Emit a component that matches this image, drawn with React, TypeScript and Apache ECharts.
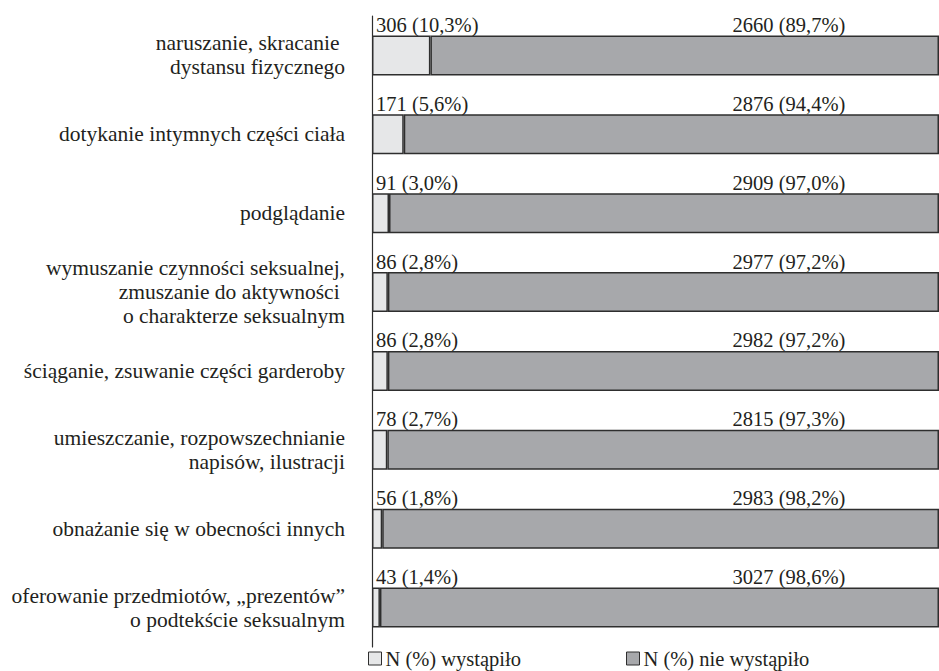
import React, { useEffect, useRef } from "react";
import * as echarts from "echarts";

const categories = [
  "naruszanie, skracanie \ndystansu fizycznego",
  "dotykanie intymnych części ciała",
  "podglądanie",
  "wymuszanie czynności seksualnej,\nzmuszanie do aktywności \no charakterze seksualnym",
  "ściąganie, zsuwanie części garderoby",
  "umieszczanie, rozpowszechnianie\nnapisów, ilustracji",
  "obnażanie się w obecności innych",
  "oferowanie przedmiotów, „prezentów”\no podtekście seksualnym",
];
const occurredN = [306, 171, 91, 86, 86, 78, 56, 43];
const occurredPct = [10.3, 5.6, 3.0, 2.8, 2.8, 2.7, 1.8, 1.4];
const notOccurredN = [2660, 2876, 2909, 2977, 2982, 2815, 2983, 3027];
const notOccurredPct = [89.7, 94.4, 97.0, 97.2, 97.2, 97.3, 98.2, 98.6];
const fullBar = [100, 100, 100, 100, 100, 100, 100, 100];

const seriesNames = ["N (%) wystąpiło", "N (%) nie wystąpiło"];

const fmt = (n: number, p: number) => `${n} (${p.toFixed(1).replace(".", ",")}%)`;

const FONT = "Liberation Serif";
const TXT = "#231f20";
const BORDER = "#2e2e2e";

export default function App() {
  const ref = useRef<HTMLDivElement>(null);
  useEffect(() => {
    if (!ref.current) return;
    const chart = echarts.init(ref.current, null, { renderer: "svg" });
    const legendBase = {
      top: 648,
      padding: 0,
      itemWidth: 13,
      itemHeight: 13,
      itemGap: 4,
      icon: "rect",
      textStyle: { color: TXT, fontFamily: FONT, fontSize: 20.5, padding: [0, 0, 0, -1] },
      itemStyle: { borderColor: BORDER, borderWidth: 1 },
    };
    chart.setOption({
      animation: false,
      backgroundColor: "#ffffff",
      textStyle: { fontFamily: FONT },
      grid: { left: 372, top: 16, width: 573, height: 631 },
      xAxis: { type: "value", min: 0, max: 100, show: false },
      yAxis: {
        type: "category",
        data: categories,
        inverse: true,
        axisLine: { show: true, lineStyle: { color: BORDER, width: 1.2 } },
        axisTick: { show: false },
        axisLabel: {
          color: TXT,
          fontFamily: FONT,
          fontSize: 21.5,
          lineHeight: 24,
          margin: 27,
          align: "right",
        },
      },
      legend: [
        { ...legendBase, data: [seriesNames[0]], left: 368 },
        { ...legendBase, data: [seriesNames[1]], left: 626 },
      ],
      series: [
        {
          name: seriesNames[0],
          type: "bar",
          stack: "total",
          barWidth: 40,
          barGap: "-100%",
          data: occurredPct,
          itemStyle: { color: "#e6e7e8", borderColor: BORDER, borderWidth: 1.5 },
          label: {
            show: true,
            position: [4, 0],
            verticalAlign: "bottom",
            align: "left",
            color: TXT,
            fontFamily: FONT,
            fontSize: 20.5,
            formatter: (p: any) => fmt(occurredN[p.dataIndex], occurredPct[p.dataIndex]),
          },
        },
        {
          name: seriesNames[1],
          type: "bar",
          stack: "total",
          barWidth: 40,
          barGap: "-100%",
          data: notOccurredPct,
          itemStyle: { color: "#a7a8ab", borderColor: BORDER, borderWidth: 1.5 },
        },
        {
          name: "labels",
          type: "bar",
          barWidth: 40,
          barGap: "-100%",
          silent: true,
          z: 1,
          data: fullBar,
          itemStyle: { color: "rgba(0,0,0,0)" },
          label: {
            show: true,
            position: ["63.6%", 0],
            verticalAlign: "bottom",
            align: "left",
            color: TXT,
            fontFamily: FONT,
            fontSize: 20.5,
            formatter: (p: any) => fmt(notOccurredN[p.dataIndex], notOccurredPct[p.dataIndex]),
          },
        },
      ],
    });
    return () => chart.dispose();
  }, []);
  return (
    <div
      ref={ref}
      style={{ position: "fixed", left: 0, top: 0, width: 939, height: 671, background: "#fff" }}
    />
  );
}
